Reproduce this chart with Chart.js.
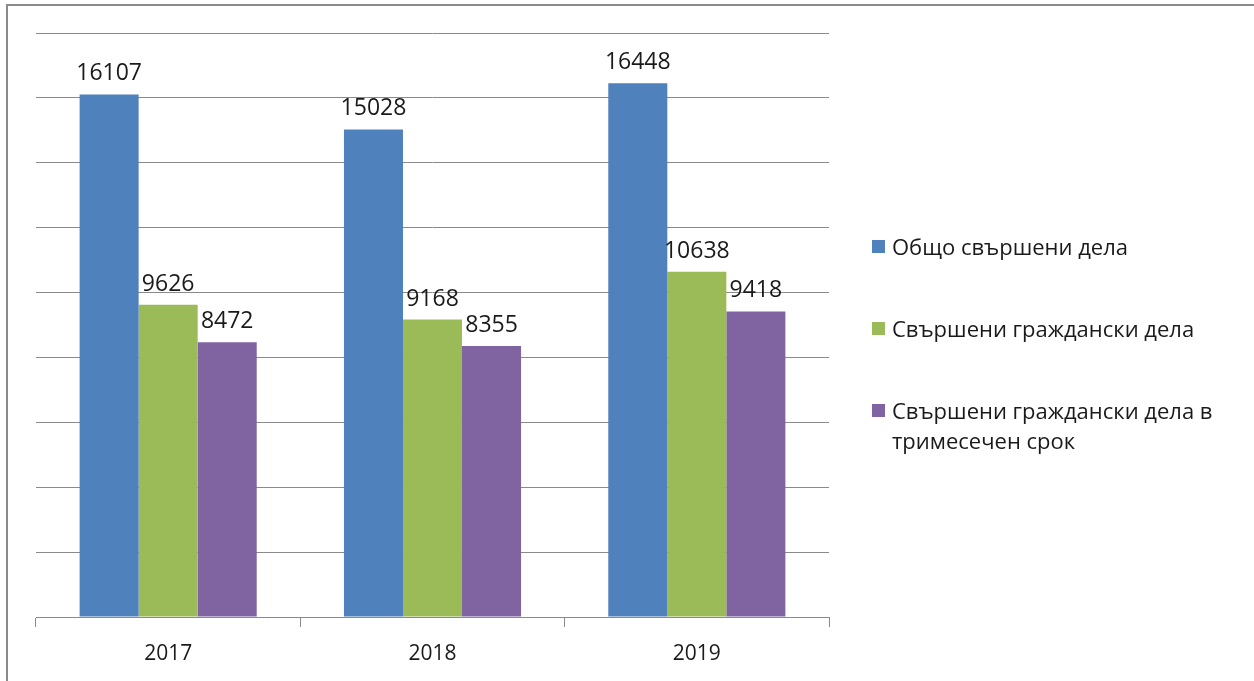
<!DOCTYPE html>
<html>
<head>
<meta charset="utf-8">
<script src="https://cdn.jsdelivr.net/npm/chart.js@4/dist/chart.umd.min.js"></script>
<style>
  html, body { margin: 0; padding: 0; background: #fff; }
  #wrap { position: relative; width: 1254px; height: 681px; overflow: hidden; }
  #frame { position: absolute; left: 6px; top: 4px; right: -10px; bottom: -10px;
           border-left: 2px solid #8a8a8a; border-top: 2px solid #8a8a8a; pointer-events: none; }
  #legend { position: absolute; left: 872px; top: 0; font-family: "Open Sans", sans-serif;
            font-size: 22px; color: #1a1a1a; }
  .item { position: absolute; left: 0; white-space: nowrap; line-height: 30px; }
  .box { position: absolute; left: 0; top: 9px; width: 13px; height: 13px; }
  .txt { position: absolute; left: 20px; top: 0; width: 350px; white-space: normal; }
</style>
</head>
<body>
<div id="wrap">
  <canvas id="chart" width="1254" height="681"></canvas>
  <div id="frame"></div>
  <div id="legend"></div>
</div>
<script>
// Данни
const years = ['2017', '2018', '2019'];
const seriesNames = ['Общо свършени дела', 'Свършени граждански дела', 'Свършени граждански дела в тримесечен срок'];
const totalCases = [16107, 15028, 16448];
const civilCases = [9626, 9168, 10638];
const civilInThreeMonths = [8472, 8355, 9418];

const colors = ['#4F81BD', '#9BBB59', '#8064A2'];
const legendTops = [231, 313, 395];
const FONT = '"Open Sans", sans-serif';

// Етикети над стълбовете
const valueLabels = {
  id: 'valueLabels',
  afterDatasetsDraw(chart) {
    const ctx = chart.ctx;
    ctx.save();
    ctx.font = '23px ' + FONT;
    ctx.fillStyle = '#1a1a1a';
    ctx.textAlign = 'center';
    ctx.textBaseline = 'bottom';
    chart.data.datasets.forEach((ds, i) => {
      chart.getDatasetMeta(i).data.forEach((bar, j) => {
        ctx.fillText(String(ds.data[j]), bar.x, bar.y - 9);
      });
    });
    ctx.restore();
  }
};

const chart = new Chart(document.getElementById('chart'), {
  type: 'bar',
  data: {
    labels: years,
    datasets: [totalCases, civilCases, civilInThreeMonths].map((d, i) => ({
      label: seriesNames[i],
      data: d,
      backgroundColor: colors[i],
      borderWidth: 0,
      categoryPercentage: 0.67,
      barPercentage: 1
    }))
  },
  options: {
    responsive: false,
    animation: false,
    layout: { padding: { left: 36, top: 33, right: 425, bottom: 0 } },
    plugins: { legend: { display: false }, tooltip: { enabled: false } },
    scales: {
      x: {
        offset: true,
        grid: { drawOnChartArea: false, drawTicks: true, tickLength: 10, color: '#8a8a8a', offset: true },
        border: { display: true, color: '#8a8a8a', width: 1 },
        ticks: { font: { family: 'Open Sans', size: 21 }, color: '#1a1a1a', padding: 14 },
        afterFit(scale) { scale.height = 64; }
      },
      y: {
        min: 0,
        max: 18000,
        ticks: { display: false, stepSize: 2000 },
        grid: { drawTicks: false, color: '#8a8a8a', lineWidth: 1 },
        border: { display: false },
        afterFit(scale) { scale.width = 0; }
      }
    }
  },
  plugins: [valueLabels]
});

// Легенда
const legend = document.getElementById('legend');
chart.data.datasets.forEach((ds, i) => {
  const item = document.createElement('div');
  item.className = 'item';
  item.style.top = legendTops[i] + 'px';
  const box = document.createElement('span');
  box.className = 'box';
  box.style.background = ds.backgroundColor;
  const txt = document.createElement('span');
  txt.className = 'txt';
  txt.textContent = ds.label;
  item.appendChild(box);
  item.appendChild(txt);
  legend.appendChild(item);
});
</script>
</body>
</html>
